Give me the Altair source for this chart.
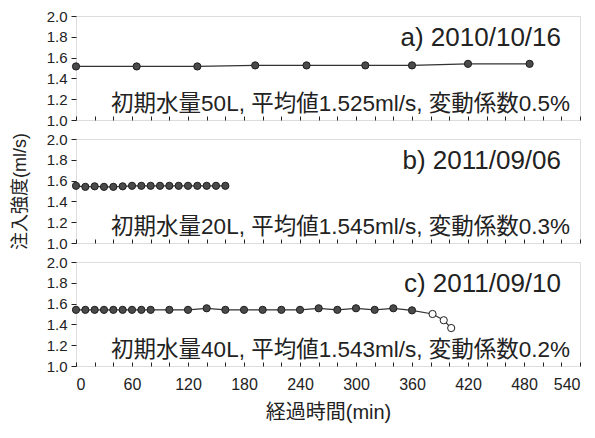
import altair as alt
import pandas as pd

# ---------------- data ----------------
a_time = [0, 65, 130, 192, 247, 310, 360, 420, 486]
a_rate = [1.515, 1.515, 1.515, 1.525, 1.525, 1.525, 1.525, 1.54, 1.54]
a_state = ["filled"] * 9

b_time = [0, 10, 20, 30, 40, 50, 60, 70, 80, 90, 100, 110, 120, 130, 140, 150, 160]
b_rate = [1.55, 1.54, 1.545, 1.54, 1.54, 1.545, 1.55, 1.55, 1.55, 1.55, 1.55,
          1.55, 1.55, 1.55, 1.55, 1.55, 1.55]
b_state = ["filled"] * 17

c_time = [0, 10, 20, 30, 40, 50, 60, 70, 80, 100, 120, 140, 160, 180, 200, 220,
          240, 260, 280, 300, 320, 340, 360, 382, 394, 402]
c_rate = [1.54, 1.54, 1.54, 1.54, 1.54, 1.54, 1.54, 1.54, 1.54, 1.54, 1.54, 1.555,
          1.54, 1.54, 1.54, 1.54, 1.54, 1.555, 1.54, 1.555, 1.54, 1.555, 1.535,
          1.50, 1.44, 1.365]
c_state = ["filled"] * 23 + ["open"] * 3

panel_labels = ["a) 2010/10/16", "b) 2011/09/06", "c) 2011/09/10"]
panel_notes = [
    "初期水量50L, 平均値1.525ml/s, 変動係数0.5%",
    "初期水量20L, 平均値1.545ml/s, 変動係数0.3%",
    "初期水量40L, 平均値1.543ml/s, 変動係数0.2%",
]
y_ticks = [1.0, 1.2, 1.4, 1.6, 1.8, 2.0]
x_labels = [0, 60, 120, 180, 240, 300, 360, 420, 480, 540]
x_minor = [0, 20, 40, 60, 80, 100, 120, 140, 160, 180, 200, 220, 240, 260, 280,
           300, 320, 340, 360, 380, 400, 420, 440, 460, 480, 500, 520, 540]
x_title = "経過時間(min)"
y_title = "注入強度(ml/s)"

# ---------------- layout ----------------
W, H = 504, 104
LATIN = "Liberation Sans"
MIXED = "Liberation Sans, Noto Sans CJK JP"
NARROW = "Liberation Sans Narrow, Liberation Sans"
INK = "#222222"


def panel(time, rate, state, label, note, bottom, show_ytitle):
    df = pd.DataFrame({"t": time, "v": rate, "s": state})
    xs = alt.Scale(domain=[0, 540], nice=False, zero=False)
    ys = alt.Scale(domain=[1.0, 2.0], nice=False, zero=False)

    yaxis_kw = dict(values=y_ticks, format=".1f", tickSize=5, labelPadding=4,
                    labelFontSize=15, labelFont=LATIN, labelColor=INK,
                    tickColor=INK, domain=False, grid=False, title=None)
    if show_ytitle:
        yaxis_kw.update(title=y_title, titleFont=MIXED, titleFontSize=18,
                        titleFontWeight="normal", titleColor=INK,
                        titlePadding=17)
    yaxis = alt.Axis(**yaxis_kw)

    main_kw = dict(orient="bottom", values=x_labels, ticks=False, tickSize=0,
                   domain=False, grid=False, labels=bottom, title=None)
    if bottom:
        main_kw.update(labelFont=NARROW, labelFontSize=16, labelColor=INK,
                       labelPadding=10, title=x_title, titleFont=MIXED,
                       titleFontSize=20, titleFontWeight="normal",
                       titleColor=INK, titlePadding=10)
    main_axis = alt.Axis(**main_kw)
    minor_axis = alt.Axis(orient="top", offset=-H, values=x_minor, labels=False,
                          tickSize=4, tickColor=INK, domain=False, grid=False,
                          title=None)

    base = alt.Chart(df)
    line = base.mark_line(color="#333333", strokeWidth=1.2).encode(
        x=alt.X("t:Q", scale=xs, axis=main_axis),
        y=alt.Y("v:Q", scale=ys, axis=yaxis),
    )
    pts = base.mark_circle(size=52, stroke="#1e1e1e", strokeWidth=1,
                           opacity=1).encode(
        x=alt.X("t:Q", scale=xs, axis=minor_axis),
        y=alt.Y("v:Q", scale=ys, axis=yaxis),
        fill=alt.Fill("s:N", scale=alt.Scale(domain=["filled", "open"],
                                              range=["#4a4a4a", "#ffffff"]),
                      legend=None),
    )
    lab = alt.Chart(pd.DataFrame({"txt": [label]})).mark_text(
        align="right", baseline="alphabetic", font=LATIN, fontSize=26,
        color=INK).encode(text="txt:N", x=alt.value(W - 19), y=alt.value(30))
    nt = alt.Chart(pd.DataFrame({"txt": [note]})).mark_text(
        align="right", baseline="alphabetic", font=MIXED, fontSize=22.5,
        color=INK).encode(text="txt:N", x=alt.value(W - 10), y=alt.value(95))
    return alt.layer(line, pts, lab, nt).resolve_axis(x="independent").properties(
        width=W, height=H)


pa = panel(a_time, a_rate, a_state, panel_labels[0], panel_notes[0], False, False)
pb = panel(b_time, b_rate, b_state, panel_labels[1], panel_notes[1], False, True)
pc = panel(c_time, c_rate, c_state, panel_labels[2], panel_notes[2], True, False)

chart = alt.vconcat(pa, pb, pc, spacing=19, bounds="flush").properties(
    padding={"top": 0, "left": 2, "right": 5, "bottom": 2}
).configure_view(stroke="#333333", strokeWidth=1).configure(background="white")

chart.save("out.html", embed_options={"renderer": "svg", "actions": False})
